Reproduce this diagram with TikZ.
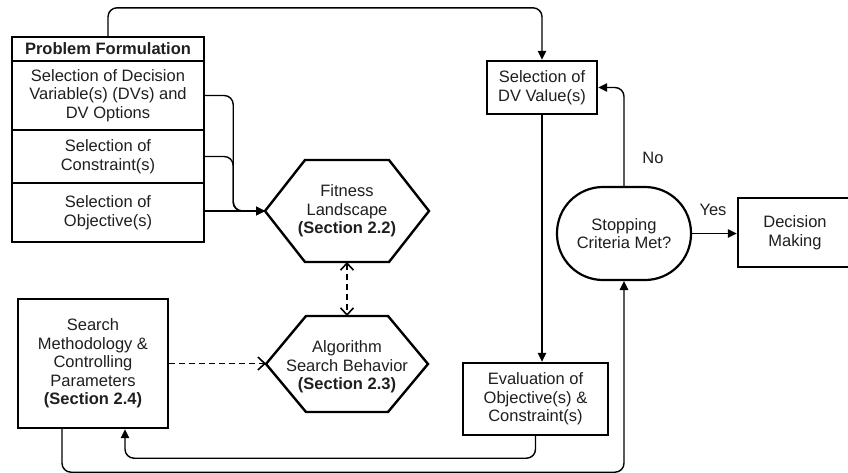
\documentclass[tikz,border=0pt]{standalone}
\usepackage{fontspec}
\setmainfont{Liberation Sans}
\usetikzlibrary{arrows.meta,calc}
\begin{document}
\begin{tikzpicture}[x=1pt,y=-1pt,
  every node/.style={font=\fontsize{16.5}{18.5}\selectfont, align=center, inner sep=0pt, text=black!88},
  box/.style={draw, line width=2.4pt},
  hexa/.style={draw, line width=2.4pt, line join=miter},
  conn/.style={line width=1.4pt, rounded corners=9pt, -{Triangle[length=9pt,width=8.5pt]}},
  barb/.tip={Straight Barb[length=7pt,width=13pt,line width=1.6pt]},
  dconn/.style={line width=1.4pt, dash pattern=on 6pt off 4pt, -barb},
  dboth/.style={line width=1.4pt, dash pattern=on 6pt off 4pt, barb-barb},
  lbl/.style={font=\fontsize{16.5}{18.5}\selectfont}]
\path[use as bounding box, clip] (0,0) rectangle (848,472);
\fill[white] (0,0) rectangle (848,472);

% Problem formulation stack
\node[box, minimum width=192pt, minimum height=24pt] (pf) at (108,49) {\textbf{Problem Formulation}};
\node[box, minimum width=192pt, minimum height=69pt] (dv) at (108,95.5) {Selection of Decision\\Variable(s) (DVs) and\\DV Options};
\node[box, minimum width=192pt, minimum height=53pt] (con) at (108,156.5) {Selection of\\Constraint(s)};
\node[box, minimum width=192pt, minimum height=59pt] (obj) at (108,212.5) {Selection of\\Objective(s)};

% Fitness landscape hexagon
\node (fit) at (347,211) {Fitness\\Landscape\\\textbf{(Section 2.2)}};
\draw[hexa] ($(fit)+(-82,0)$) coordinate (fitW) -- ($(fit)+(-42,-51)$) -- ($(fit)+(42,-51)$)
  -- ($(fit)+(82,0)$) -- ($(fit)+(42,51)$) -- ($(fit)+(-42,51)$) -- cycle;
\coordinate (fitS) at ($(fit)+(0,51)$);

% Algorithm hexagon
\node (alg) at (347,367) {Algorithm\\Search Behavior\\\textbf{(Section 2.3)}};
\coordinate (algc) at (347,364);
\draw[hexa] ($(algc)+(-81,0)$) coordinate (algW) -- ($(algc)+(-41,-48)$) -- ($(algc)+(41,-48)$)
  -- ($(algc)+(81,0)$) -- ($(algc)+(41,48)$) -- ($(algc)+(-41,48)$) -- cycle;
\coordinate (algN) at ($(algc)+(0,-48)$);

% Search methodology
\node[box, minimum width=150pt, minimum height=129pt] (search) at (93,363.5) {Search\\Methodology \&\\Controlling\\Parameters\\\textbf{(Section 2.4)}};

% Right side
\node[box, minimum width=110pt, minimum height=53pt] (dvv) at (542,87.5) {Selection of\\DV Value(s)};
\node[box, minimum width=145pt, minimum height=72pt] (eval) at (535.5,399) {Evaluation of\\Objective(s) \&\\Constraint(s)};
\node[box, line width=2.2pt, rounded corners=46pt, minimum width=134pt, minimum height=93pt] (stop) at (624,233.5) {Stopping\\Criteria Met?};
\node[box, minimum width=124pt, minimum height=69pt, text width=114pt] (dec) at (800,232.5) {\hspace*{-10pt}Decision\\\hspace*{-10pt}Making};

% Connectors
\draw[conn] (pf.north) -- ++(0,-28) -| (dvv.north);
\draw[conn] (dv.east) -- ++(28,0) |- (fitW);
\draw[conn] (con.east) -- ++(28,0) |- (fitW);
\draw[conn] (obj.east |- fitW) -- (fitW);
\draw[dboth] (fitS) -- (algN);
\draw[dconn] (search.east) -- (search.east -| algW);
\draw[conn] (dvv.south) -- (dvv.south |- eval.north);
\draw[conn] (eval.south) -- ++(0,22) -| ($(search.south)+(32,0)$);
\draw[conn] ($(search.south)+(-31,0)$) -- ++(0,43) -| (stop.south);
\draw[conn] (stop.north) |- (dvv.east);
\draw[conn] (stop.east) -- (stop.east -| dec.west);

% Labels
\node[lbl] (no) at (653,158) {No};
\node[lbl] (yes) at (713,210) {Yes};
\end{tikzpicture}
\end{document}
